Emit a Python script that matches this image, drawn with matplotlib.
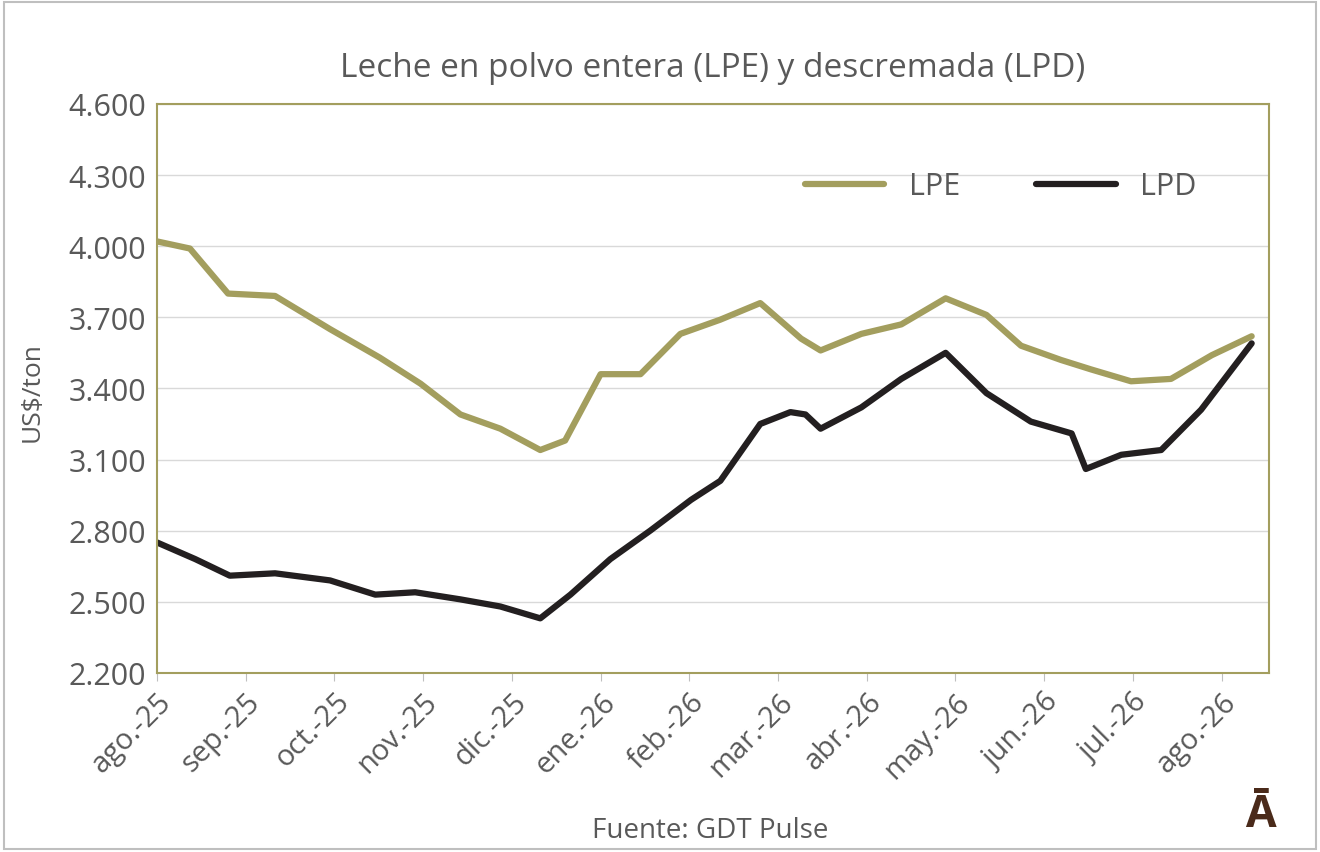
import matplotlib.pyplot as plt
from matplotlib.ticker import FuncFormatter

plt.rcParams['font.family'] = ['Open Sans', 'DejaVu Sans']

months = ['ago.-25', 'sep.-25', 'oct.-25', 'nov.-25', 'dic.-25', 'ene.-26', 'feb.-26',
          'mar.-26', 'abr.-26', 'may.-26', 'jun.-26', 'jul.-26', 'ago.-26']

lpe_x = [0, 0.37, 0.80, 1.33, 1.95, 2.51, 2.97, 3.42, 3.87, 4.32, 4.60, 5.0, 5.45, 5.90, 6.35,
         6.80, 7.26, 7.48, 7.94, 8.39, 8.89, 9.35, 9.74, 10.19, 10.53, 10.98, 11.43, 11.89, 12.34]
lpe_y = [4020, 3990, 3800, 3790, 3650, 3530, 3420, 3290, 3230, 3140, 3180, 3460, 3460, 3630, 3690,
         3760, 3610, 3560, 3630, 3670, 3780, 3710, 3580, 3520, 3480, 3430, 3440, 3540, 3620]

lpd_x = [0, 0.43, 0.82, 1.33, 1.95, 2.46, 2.91, 3.42, 3.87, 4.32, 4.66, 5.11, 5.56, 6.02, 6.35,
         6.80, 7.14, 7.31, 7.48, 7.94, 8.39, 8.89, 9.35, 9.85, 10.31, 10.47, 10.87, 11.32, 11.77, 12.34]
lpd_y = [2750, 2680, 2610, 2620, 2590, 2530, 2540, 2510, 2480, 2430, 2530, 2680, 2800, 2930, 3010,
         3250, 3300, 3290, 3230, 3320, 3440, 3550, 3380, 3260, 3210, 3060, 3120, 3140, 3310, 3590]

fig = plt.figure(figsize=(13.2, 8.53), dpi=100)
ax = fig.add_axes([0.119, 0.21, 0.842, 0.667])

ax.plot(lpe_x, lpe_y, color='#A39E5E', lw=4.5, solid_joinstyle='round', solid_capstyle='round', label='LPE')
ax.plot(lpd_x, lpd_y, color='#231F20', lw=4.5, solid_joinstyle='round', solid_capstyle='round', label='LPD')

ax.set_xlim(0, 12.53)
ax.set_ylim(2200, 4600)
ax.set_yticks(range(2200, 4601, 300))
ax.yaxis.set_major_formatter(FuncFormatter(lambda v, p: f'{int(v):,}'.replace(',', '.')))
ax.set_xticks(range(len(months)))
ax.set_xticklabels(months, rotation=45, ha='right', rotation_mode='anchor', fontsize=21, color='#595959')
ax.tick_params(axis='y', labelsize=22, labelcolor='#595959', length=0, pad=8)
ax.tick_params(axis='x', length=6, color='#BFBFBF', pad=4)
ax.grid(axis='y', color='#D9D9D9', lw=1)
for s in ax.spines.values():
    s.set_color('#A39E5E')
    s.set_linewidth(1.5)

ax.set_title('Leche en polvo entera (LPE) y descremada (LPD)', fontsize=24, color='#595959', pad=20)
fig.text(0.015, 0.54, 'US$/ton', rotation=90, fontsize=19, color='#595959', va='center')
ax.legend(loc='upper right', bbox_to_anchor=(0.96, 0.93), ncol=2, frameon=False, fontsize=22,
          handlelength=2.6, columnspacing=2.5, labelcolor='#595959')
fig.text(0.538, 0.018, 'Fuente: GDT Pulse', fontsize=20, color='#595959', ha='center')
fig.text(0.955, 0.03, 'Ā', fontsize=32, color='#4A2A1A', fontweight='bold', ha='center')

fig.patches.append(plt.Rectangle((0.003, 0.003), 0.994, 0.994, transform=fig.transFigure,
                                 fill=False, edgecolor='#BFBFBF', lw=1.5))
fig.savefig('out.png', dpi=100)
